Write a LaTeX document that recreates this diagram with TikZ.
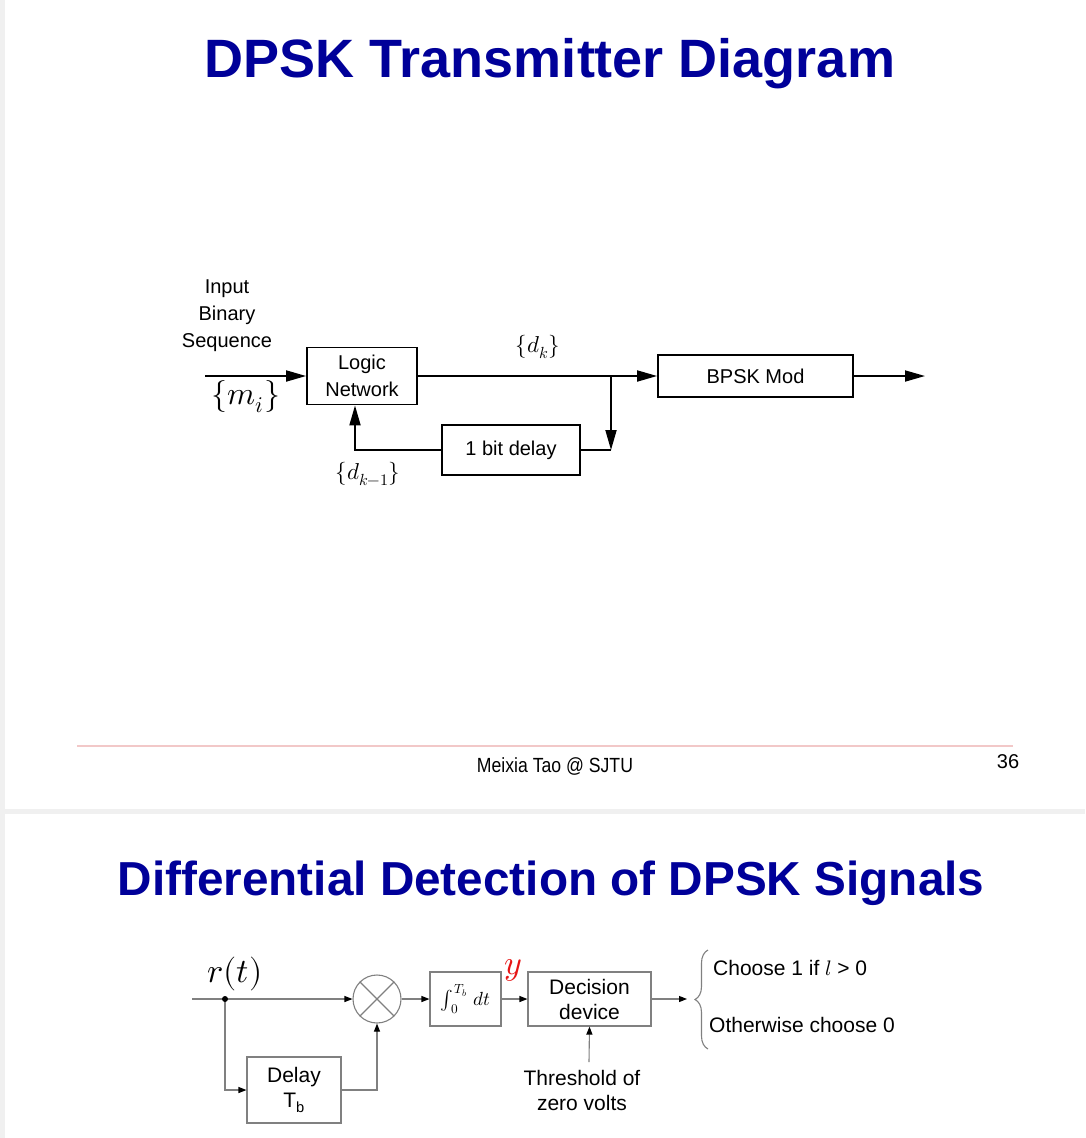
\documentclass[tikz,border=0pt]{standalone}
\usepackage{fontspec}
\usepackage{unicode-math}
\setmainfont{Liberation Sans}
\setmathfont{Latin Modern Math}
\usetikzlibrary{arrows.meta,decorations.pathreplacing}
\definecolor{titleblue}{RGB}{0,0,153}
\definecolor{sepgray}{RGB}{240,240,240}
\definecolor{rulepink}{RGB}{242,200,200}
\definecolor{wiregray}{RGB}{128,128,128}
\definecolor{mathred}{RGB}{230,20,20}
\tikzset{
  slidetitle/.style={text=titleblue,font=\fontsize{54}{60}\selectfont\bfseries,anchor=base,inner sep=0pt},
  txt/.style={font=\fontsize{20}{27}\selectfont,align=center,inner sep=0pt},
  btxt/.style={font=\fontsize{21}{25}\selectfont,align=center,inner sep=0pt},
  tbox/.style={draw,line width=1.8pt,txt,minimum width=#1},
  topwire/.style={line width=1.8pt},
  toparrow/.style={line width=1.8pt,-{Triangle[length=20pt,width=11pt]}},
  gbox/.style={draw=wiregray,line width=1.1pt,btxt},
  gwire/.style={draw=wiregray,line width=1.1pt},
  garrow/.style={gwire,-{Triangle[length=8pt,width=6pt,color=black]}}
}
\begin{document}
\begin{tikzpicture}[x=1pt,y=-1pt]
\useasboundingbox (0,0) rectangle (1085,1138);
\fill[white] (0,0) rectangle (1085,1138);
% page frame strips
\fill[sepgray] (0,0) rectangle (4.5,1138);
\fill[sepgray] (0,809) rectangle (1085,813.5);

% ---------- transmitter ----------
\node[slidetitle] (t1) at (550,77) {DPSK Transmitter Diagram};

\node[tbox=110pt,minimum height=57pt] (logic) at (362,376) {Logic\\Network};
\node[tbox=138pt,minimum height=50pt] (dly) at (511,450) {1 bit delay};
\node[tbox=195pt,minimum height=42pt] (bpsk) at (755.5,376) {BPSK Mod};

\coordinate (in) at (205,376);
\coordinate (jn) at (611,376);
\coordinate (jd) at (611,450);
\coordinate (fb) at (355,450);
\coordinate (out) at (925,376);

\draw[toparrow] (in) -- (logic.west);
\draw[toparrow] (logic.east) -- (bpsk.west);
\draw[toparrow] (jn) -- (jd);
\draw[topwire] (jd) -- (dly.east);
\draw[toparrow] (dly.west) -- (fb) -- (fb |- logic.south);
\draw[toparrow] (bpsk.east) -- (out);

\node[txt] (inlbl) at (227,316) {Input\\Binary\\Sequence};
\node[inner sep=0pt,font=\fontsize{32}{36}\selectfont] (mi) at (246,397) {$\{m_i\}$};
\node[inner sep=0pt,font=\fontsize{23}{26}\selectfont] (dk) at (538,347) {$\{d_k\}$};
\node[inner sep=0pt,font=\fontsize{23}{26}\selectfont] (dk1) at (368,474) {$\{d_{k-1}\}$};

% footer
\draw[rulepink,line width=1.5pt] (77,746) -- (1013,746);
\node[inner sep=0pt,font=\fontsize{20.5}{24}\selectfont] (foot) at (555,766) {\scalebox{0.86}[1]{Meixia Tao @ SJTU}};
\node[inner sep=0pt,font=\fontsize{20}{24}\selectfont] (pg) at (1008,762) {36};

% ---------- differential detector ----------
\node[slidetitle,font=\fontsize{47.7}{54}\selectfont\bfseries] (t2) at (551,895) {Differential Detection of DPSK Signals};

\node[circle,draw=wiregray,line width=1.1pt,minimum size=48pt,inner sep=0pt] (mult) at (377,999) {};
\node[gbox,minimum width=71pt,minimum height=54pt,font=\fontsize{19}{24}\selectfont] (intg) at (465.5,999) {$\int_{\mkern7mu 0}^{\mkern2mu T_b}\, dt$};
\node[gbox,minimum width=123pt,minimum height=54pt] (dec) at (589.5,999) {Decision\\device};
\node[gbox,minimum width=94pt,minimum height=66pt] (dl2) at (294,1090) {Delay\\T\textsubscript{b}};

\coordinate (rin) at (192,999);
\coordinate (tap) at (225,999);
\coordinate (dlc) at (225,1090);
\coordinate (muc) at (377,1090);
\coordinate (outb) at (687,999);
\coordinate (thr) at (589,1062);

\draw[gwire] (rin) -- (tap);
\draw[garrow] (tap) -- (mult.west);
\draw[garrow] (tap) -- (dlc) -- (dl2.west);
\draw[garrow] (dl2.east) -- (muc) -- (mult.south);
\draw[gwire] (mult.north west) -- (mult.south east);
\draw[gwire] (mult.north east) -- (mult.south west);
\draw[garrow] (mult.east) -- (intg.west);
\draw[garrow] (intg.east) -- (dec.west);
\draw[garrow] (dec.east) -- (outb);
\draw[garrow] (thr) -- (dec.south);
\fill (tap) circle (3pt);

\node[inner sep=0pt,font=\fontsize{34}{38}\selectfont] (rt) at (235,974) {$r(t)$};
\node[inner sep=0pt,font=\fontsize{34}{38}\selectfont,text=mathred] (ylbl) at (513,970) {$y$};

\draw[gwire,decorate,decoration={brace,amplitude=13pt}] (708,1049) -- (708,950);
\node[btxt,anchor=west] (c1) at (713,968) {Choose 1 if $l$ > 0};
\node[btxt,anchor=west] (c0) at (709,1025) {Otherwise choose 0};
\node[btxt] (thl) at (582,1090) {Threshold of\\zero volts};
\end{tikzpicture}
\end{document}
